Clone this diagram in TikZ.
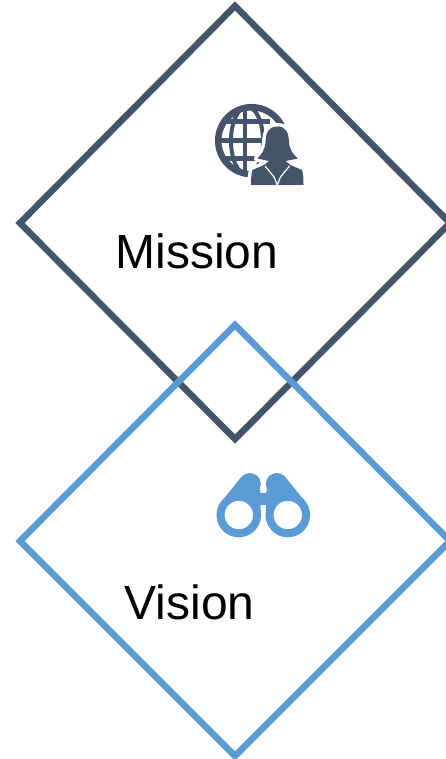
\documentclass[tikz,border=0pt]{standalone}
\usepackage{fontspec}
\setmainfont{Liberation Sans}
\definecolor{missionblue}{HTML}{44546A}
\definecolor{visionblue}{HTML}{5B9BD5}
\tikzset{
    frame/.style={line width=6.5pt, line join=miter},
    title/.style={inner sep=0pt, font=\fontsize{48}{48}\selectfont}
}
\begin{document}
\begin{tikzpicture}[x=1pt,y=-1pt]
    \useasboundingbox (0,0) rectangle (446,759);
    \clip (0,0) rectangle (446,759);
    % mission frame
    \draw[frame, missionblue] (235,6) -- (450,223) -- (235,439) -- (20,223) -- cycle;
    % globe
    \begin{scope}[missionblue]
        \draw[line width=6.5pt] (251.7,140.7) circle (33.5);
        \draw[line width=4pt] (247,140.7) ellipse (16 and 34);
        \draw[line width=4.5pt] (245,107) -- (245,175);
        \draw[line width=5pt] (222,121.5) -- (270,121.5);
        \draw[line width=5pt] (220,141) -- (262,141);
        \draw[line width=5pt] (222,159) -- (256,159);
    \end{scope}
    % woman
    \path[fill=missionblue, draw=white, line width=7pt, line join=round]
        (277.3,126.5) .. controls (268,126.5) and (266,133) .. (265.5,142)
        .. controls (265,150) and (261,155) .. (257.3,158.5)
        -- (269,161) -- (264,165) -- (252.5,170) .. controls (251,175) and (251,180) .. (251,185)
        -- (303.5,185) .. controls (303.5,180) and (303.5,175) .. (302,170)
        -- (290.5,165) -- (285.5,161) -- (298,158.5)
        .. controls (293.5,155) and (289.5,150) .. (289,142)
        .. controls (288.5,133) and (286.5,126.5) .. (277.3,126.5) -- cycle;
    \fill[missionblue]
        (277.3,126.5) .. controls (268,126.5) and (266,133) .. (265.5,142)
        .. controls (265,150) and (261,155) .. (257.3,158.5)
        -- (269,161) -- (264,165) -- (252.5,170) .. controls (251,175) and (251,180) .. (251,185)
        -- (303.5,185) .. controls (303.5,180) and (303.5,175) .. (302,170)
        -- (290.5,165) -- (285.5,161) -- (298,158.5)
        .. controls (293.5,155) and (289.5,150) .. (289,142)
        .. controls (288.5,133) and (286.5,126.5) .. (277.3,126.5) -- cycle;
    \draw[white, line width=1.2pt] (265,166) -- (274,177) -- (277.3,185) -- (280.5,177) -- (289.5,166);
    \node[title] (mission) at (197,251) {Mission};
    % vision frame
    \draw[frame, visionblue] (235,325) -- (450,541) -- (235,756) -- (20,541) -- cycle;
    % binoculars
    \fill[visionblue] (255,493) rectangle (272,505);
    \foreach \s in {-1,1} {
        \fill[visionblue] ({263.3+\s*13.5},484) circle (11);
        \fill[visionblue] ({263.3+\s*42},501.9) -- ({263.3+\s*22.4},477.5)
            -- ({263.3+\s*3},490) -- ({263.3+\s*2.5},515) -- ({263.3+\s*24.5},515) -- cycle;
        \draw[visionblue, fill=white, line width=8pt] ({263.3+\s*24.5},515) circle (18.3);
    }
    \node[title] (vision) at (189.5,602) {Vision};
\end{tikzpicture}
\end{document}
